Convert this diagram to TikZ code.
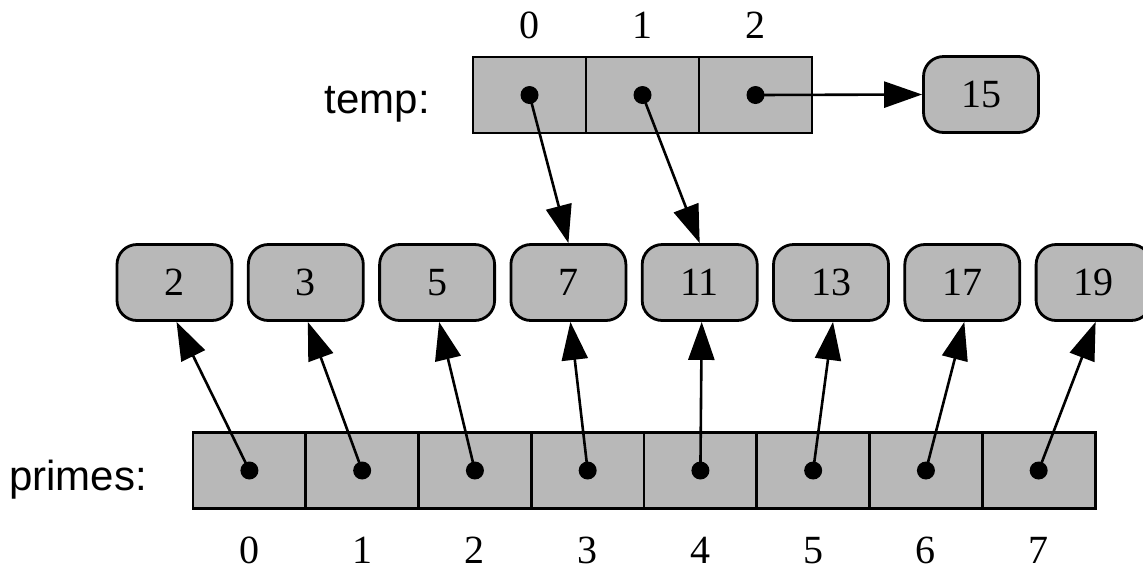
\documentclass[tikz,border=0pt]{standalone}
\usepackage{fontspec}
\setmainfont{Liberation Serif}
\newfontfamily\labfont{Liberation Sans}
\usetikzlibrary{arrows.meta}
\definecolor{cellgray}{RGB}{184,184,184}
\begin{document}
\begin{tikzpicture}[x=0.5pt,y=-0.5pt,
  cell/.style={draw, fill=cellgray, line width=1.4pt, minimum width=56.5pt, minimum height=38pt, inner sep=0pt},
  val/.style={draw, fill=cellgray, line width=1.4pt, rounded corners=10pt, minimum width=57.5pt, minimum height=38pt, inner sep=0pt, font=\fontsize{20}{20}\selectfont},
  idx/.style={anchor=base, font=\fontsize{20}{20}\selectfont},
  lab/.style={anchor=base east, font=\labfont\fontsize{21}{21}\selectfont},
  ptr/.style={line width=1.3pt, -{Triangle[length=19pt,width=13pt]}},
  dotmark/.style={fill=black}]
\useasboundingbox (0,0) rectangle (1143,569);
% temp array
\node[lab] (templab) at (437,113) {temp:};
\foreach \i in {0,1,2} {
  \node[cell] (t\i) at ({529.5+113*\i},95) {};
  \node[idx] (ti\i) at ({529.5+113*\i},38) {\i};
}
\node[val] (v15) at (981,94.5) {15};
% values
\foreach \v [count=\k from 0] in {2,3,5,7,11,13,17,19} {
  \node[val] (m\v) at ({174.5+131.3*\k},282.5) {\v};
}
% primes array
\node[lab] (primeslab) at (154,490) {primes:};
\foreach \i in {0,...,7} {
  \node[cell] (p\i) at ({249.4+112.75*\i},470.5) {};
  \node[idx] (pi\i) at ({249.4+112.75*\i},563) {\i};
}
% pointers
\draw[ptr] (t0.center) -- (m7.north);
\draw[ptr] (t1.center) -- (m11.north);
\draw[ptr] (t2.center) -- (v15.west);
\foreach \v [count=\k from 0] in {2,3,5,7,11,13,17,19} {
  \draw[ptr] (p\k.center) -- ([xshift=1pt]m\v.south);
}
\foreach \i in {0,1,2} { \fill[dotmark] (t\i.center) circle (4.5pt); }
\foreach \i in {0,...,7} { \fill[dotmark] (p\i.center) circle (4.5pt); }
\end{tikzpicture}
\end{document}
